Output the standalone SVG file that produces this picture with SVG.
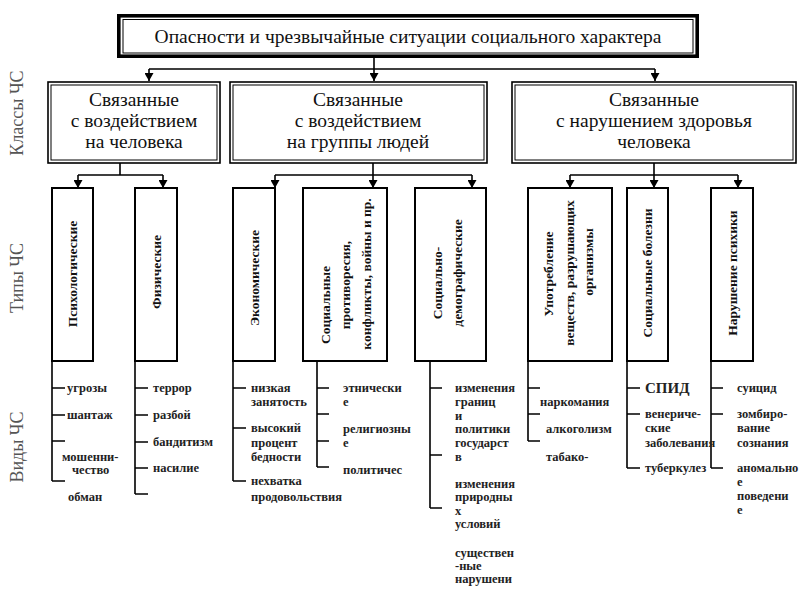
<svg xmlns="http://www.w3.org/2000/svg" width="800" height="600" viewBox="0 0 800 600">
<style>
  .bg{fill:#fff}
  .box{fill:#fff;stroke:#000;stroke-width:2}
  .cls-o{fill:#fff;stroke:#000;stroke-width:1.6}
  .cls-i{fill:none;stroke:#000;stroke-width:1}
  .ln{fill:none;stroke:#000;stroke-width:1.6}
  .t-title{font-family:"Liberation Serif","Times New Roman",serif;font-size:19.5px;fill:#111;text-anchor:middle}
  .t-cls{font-family:"Liberation Serif","Times New Roman",serif;font-size:19.5px;fill:#111;text-anchor:middle}
  .t-side{font-family:"Liberation Serif","Times New Roman",serif;font-size:18px;fill:#555;text-anchor:middle}
  .t-type{font-family:"Liberation Serif","Times New Roman",serif;font-size:13.5px;font-weight:bold;fill:#111;text-anchor:middle}
  .t-it{font-family:"Liberation Serif","Times New Roman",serif;font-size:12.5px;font-weight:bold;fill:#222}
</style>
<defs>
  <marker id="arr" markerUnits="userSpaceOnUse" markerWidth="9" markerHeight="9" refX="8" refY="4.5" orient="auto">
    <path d="M0,0 L8,4.5 L0,9 z" fill="#000"/>
  </marker>
</defs>
<rect class="bg" x="0" y="0" width="800" height="600"/>

<!-- side labels -->
<g id="side-labels">
  <text class="t-side" transform="translate(23,113) rotate(-90)">Классы ЧС</text>
  <text class="t-side" transform="translate(23,278) rotate(-90)">Типы ЧС</text>
  <text class="t-side" transform="translate(23,447) rotate(-90)">Виды ЧС</text>
</g>

<!-- connectors -->
<g id="connectors">
  <path class="ln" d="M374,58 V69 M149,69 H655"/>
  <path class="ln" d="M149,69 V81" marker-end="url(#arr)"/>
  <path class="ln" d="M374,69 V81" marker-end="url(#arr)"/>
  <path class="ln" d="M655,69 V81" marker-end="url(#arr)"/>

  <path class="ln" d="M120,163 V175 M78,175 H163"/>
  <path class="ln" d="M78,175 V188" marker-end="url(#arr)"/>
  <path class="ln" d="M163,175 V188" marker-end="url(#arr)"/>

  <path class="ln" d="M373,163 V175 M275,175 H472"/>
  <path class="ln" d="M275,175 V188" marker-end="url(#arr)"/>
  <path class="ln" d="M373,175 V188" marker-end="url(#arr)"/>
  <path class="ln" d="M472,175 V188" marker-end="url(#arr)"/>

  <path class="ln" d="M654,163 V175 M570,175 H738"/>
  <path class="ln" d="M570,175 V188" marker-end="url(#arr)"/>
  <path class="ln" d="M654,175 V188" marker-end="url(#arr)"/>
  <path class="ln" d="M738,175 V188" marker-end="url(#arr)"/>

  <!-- list lines -->
  <path class="ln" d="M52,361 V481 M52,388 H65 M52,415 H65 M52,441 H65 M52,481 H65"/>
  <path class="ln" d="M135,361 V494 M135,388 H148 M135,415 H148 M135,442 H148 M135,468 H148 M135,494 H148"/>
  <path class="ln" d="M233,361 V481 M233,388 H246 M233,428 H246 M233,481 H246"/>
  <path class="ln" d="M317,361 V467 M317,388 H329 M317,414 H329 M317,441 H329 M317,467 H329"/>
  <path class="ln" d="M430,361 V508 M430,388 H442 M430,455 H442 M430,508 H442"/>
  <path class="ln" d="M528,361 V441 M528,388 H540 M528,414 H540 M528,441 H540"/>
  <path class="ln" d="M627,361 V468 M627,388 H640 M627,414 H640 M627,468 H640"/>
  <path class="ln" d="M711,361 V468 M711,388 H723 M711,414 H723 M711,468 H723"/>
</g>

<!-- title -->
<g id="title">
  <rect x="118.8" y="15.8" width="578.4" height="40.4" fill="#fff" stroke="#000" stroke-width="3.6"/>
  <rect x="123" y="19.5" width="570" height="33.5" fill="none" stroke="#000" stroke-width="1"/>
  <text class="t-title" x="408" y="43">Опасности и чрезвычайные ситуации социального характера</text>
</g>

<!-- classes -->
<g id="class-person">
  <rect class="cls-o" x="48" y="82" width="172" height="81"/>
  <rect class="cls-i" x="51" y="85" width="166" height="75"/>
  <text class="t-cls" x="134" y="106">Связанные</text>
  <text class="t-cls" x="134" y="127">с воздействием</text>
  <text class="t-cls" x="134" y="148">на человека</text>
</g>
<g id="class-groups">
  <rect class="cls-o" x="230" y="82" width="257" height="81"/>
  <rect class="cls-i" x="233" y="85" width="251" height="75"/>
  <text class="t-cls" x="358" y="106">Связанные</text>
  <text class="t-cls" x="358" y="127">с воздействием</text>
  <text class="t-cls" x="358" y="148">на группы людей</text>
</g>
<g id="class-health">
  <rect class="cls-o" x="512" y="82" width="284" height="81"/>
  <rect class="cls-i" x="515" y="85" width="278" height="75"/>
  <text class="t-cls" x="654" y="106">Связанные</text>
  <text class="t-cls" x="654" y="127">с нарушением здоровья</text>
  <text class="t-cls" x="654" y="148">человека</text>
</g>

<!-- types -->
<g id="type-psych">
  <rect class="box" x="52" y="188" width="41" height="173"/>
  <text class="t-type" transform="translate(77,274) rotate(-90)">Психологические</text>
</g>
<g id="type-phys">
  <rect class="box" x="135" y="188" width="42" height="173"/>
  <text class="t-type" transform="translate(161,272) rotate(-90)">Физические</text>
</g>
<g id="type-econ">
  <rect class="box" x="233" y="188" width="42" height="173"/>
  <text class="t-type" transform="translate(259,278) rotate(-90)">Экономические</text>
</g>
<g id="type-conflicts">
  <rect class="box" x="303" y="188" width="84" height="173"/>
  <text class="t-type" transform="translate(330,305) rotate(-90)">Социальные</text>
  <text class="t-type" transform="translate(350,285) rotate(-90)">противоресия,</text>
  <text class="t-type" transform="translate(371,274) rotate(-90)">конфликты, войны и пр.</text>
</g>
<g id="type-demo">
  <rect class="box" x="415" y="188" width="71" height="173"/>
  <text class="t-type" transform="translate(442,283) rotate(-90)">Социально-</text>
  <text class="t-type" transform="translate(462,273) rotate(-90)">демографические</text>
</g>
<g id="type-substances">
  <rect class="box" x="528" y="188" width="84" height="173"/>
  <text class="t-type" transform="translate(553,274) rotate(-90)">Употребление</text>
  <text class="t-type" transform="translate(574,273) rotate(-90)">веществ, разрушающих</text>
  <text class="t-type" transform="translate(593,262) rotate(-90)">организмы</text>
</g>
<g id="type-diseases">
  <rect class="box" x="627" y="188" width="41" height="173"/>
  <text class="t-type" transform="translate(652,273) rotate(-90)">Социальные болезни</text>
</g>
<g id="type-psyche">
  <rect class="box" x="711" y="188" width="42" height="173"/>
  <text class="t-type" transform="translate(737,273) rotate(-90)">Нарушение психики</text>
</g>

<!-- kinds -->
<g id="kinds-psych" class="t-it">
  <text x="67" y="392">угрозы</text>
  <text x="67" y="419">шантаж</text>
  <text x="62" y="461">мошенни-</text>
  <text x="72" y="474">чество</text>
  <text x="68" y="501">обман</text>
</g>
<g id="kinds-phys" class="t-it">
  <text x="153" y="392">террор</text>
  <text x="153" y="419">разбой</text>
  <text x="153" y="446">бандитизм</text>
  <text x="153" y="472">насилие</text>
</g>
<g id="kinds-econ" class="t-it">
  <text x="251" y="392">низкая</text>
  <text x="251" y="406">занятость</text>
  <text x="251" y="432">высокий</text>
  <text x="251" y="447">процент</text>
  <text x="251" y="461">бедности</text>
  <text x="251" y="485">нехватка</text>
  <text x="251" y="501">продовольствия</text>
</g>
<g id="kinds-conflicts" class="t-it">
  <text x="343" y="392">этнически</text>
  <text x="343" y="406">е</text>
  <text x="343" y="433">религиозны</text>
  <text x="343" y="447">е</text>
  <text x="343" y="474">политичес</text>
</g>
<g id="kinds-demo" class="t-it">
  <text x="455" y="392">изменения</text>
  <text x="455" y="406">границ</text>
  <text x="455" y="420">и</text>
  <text x="455" y="433">политики</text>
  <text x="455" y="447">государст</text>
  <text x="455" y="461">в</text>
  <text x="455" y="488">изменения</text>
  <text x="455" y="501">природны</text>
  <text x="455" y="515">х</text>
  <text x="455" y="528">условий</text>
  <text x="455" y="557">существен</text>
  <text x="455" y="570">-ные</text>
  <text x="455" y="583">нарушени</text>
</g>
<g id="kinds-substances" class="t-it">
  <text x="540" y="406">наркомания</text>
  <text x="546" y="433">алкоголизм</text>
  <text x="546" y="461">табако-</text>
</g>
<g id="kinds-diseases" class="t-it">
  <text x="645" y="393" style="font-size:15px">СПИД</text>
  <text x="645" y="418">венериче-</text>
  <text x="645" y="432">ские</text>
  <text x="645" y="447">заболевания</text>
  <text x="645" y="472">туберкулез</text>
</g>
<g id="kinds-psyche" class="t-it">
  <text x="737" y="392">суицид</text>
  <text x="737" y="418">зомбиро-</text>
  <text x="737" y="432">вание</text>
  <text x="737" y="447">сознания</text>
  <text x="737" y="472">аномально</text>
  <text x="737" y="486">е</text>
  <text x="737" y="500">поведени</text>
  <text x="737" y="514">е</text>
</g>
</svg>
